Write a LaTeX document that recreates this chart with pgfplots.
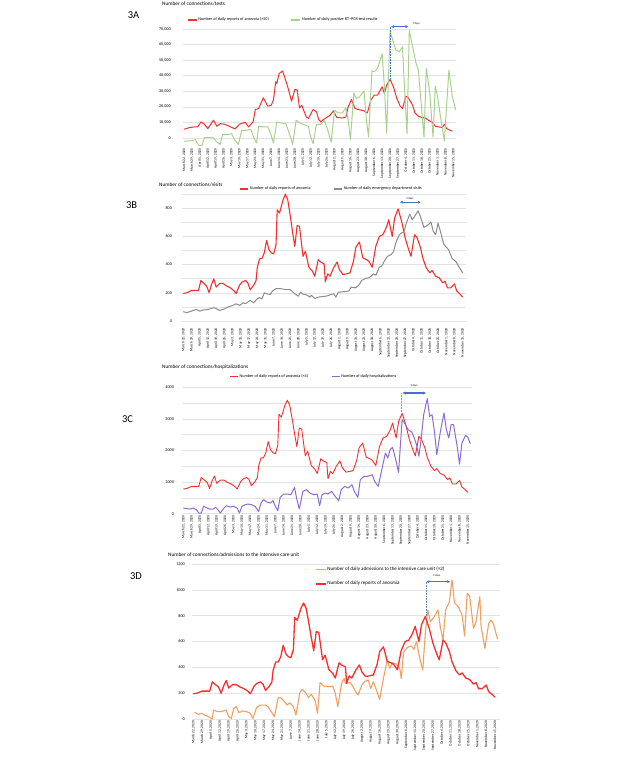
\documentclass[border=0pt]{standalone}
\usepackage{fontspec}
\setmainfont{Carlito}
\usepackage{pgfplots}
\pgfplotsset{compat=1.18}
\usetikzlibrary{arrows.meta}
\definecolor{cRed}{HTML}{F52F2F}
\definecolor{cGreen}{HTML}{A9D18E}
\definecolor{cGray}{HTML}{8C8C8C}
\definecolor{cPurple}{HTML}{8E6BD1}
\definecolor{cOrange}{HTML}{F0A060}
\definecolor{cGrid}{HTML}{E3E3E3}
\definecolor{cBlue}{HTML}{4472C4}
\newcommand\xtf{\fontsize{3.6}{4}\selectfont}
\newcommand\ytf{\fontsize{4.2}{5}\selectfont}
\newcommand\lgf{\fontsize{4.2}{5}\selectfont}
\newcommand\ttf{\fontsize{5.3}{6}\selectfont}
\newcommand\anf{\fontsize{2.8}{3}\selectfont}
\tikzset{arr/.style={cBlue, {Stealth[length=3pt,width=3pt]}-{Stealth[length=3pt,width=3pt]}, line width=1.2pt}}
\pgfplotsset{panel/.style={
 scale only axis, clip=false, scaled ticks=false,
 axis line style={draw=none},
 major tick length=0pt, minor tick length=0pt,
 ymajorgrids, grid style={draw=cGrid, line width=0.5pt},
 minor grid style={draw=cGrid, line width=0.5pt},
 xtick={0,7,...,238},
 xticklabels={{March 22, 2020},{March 29, 2020},{April 5, 2020},{April 12, 2020},{April 19, 2020},{April 26, 2020},{May 3, 2020},{May 10, 2020},{May 17, 2020},{May 24, 2020},{May 31, 2020},{June 7, 2020},{June 14, 2020},{June 21, 2020},{June 28, 2020},{July 5, 2020},{July 12, 2020},{July 19, 2020},{July 26, 2020},{August 2, 2020},{August 9, 2020},{August 16, 2020},{August 23, 2020},{August 30, 2020},{September 6, 2020},{September 13, 2020},{September 20, 2020},{September 27, 2020},{October 4, 2020},{October 11, 2020},{October 18, 2020},{October 25, 2020},{November 1, 2020},{November 8, 2020},{November 15, 2020}},
 xticklabel style={rotate=90, anchor=east, inner sep=0pt, font=\xtf},
 yticklabel style={anchor=east, inner sep=0pt, font=\ytf},
 /pgf/number format/assume math mode=true,
 /pgf/number format/1000 sep={},
 legend cell align=left,
 legend style={draw=none, fill=none, inner sep=0pt, font=\lgf, nodes={inner sep=1pt}},
 every axis plot/.append style={mark=none, line join=round},
}}
\begin{document}
\begin{tikzpicture}
\path[use as bounding box] (0pt,0pt) rectangle (634pt,761pt);
% titles and panel labels
\node[anchor=west, font=\ttf, inner sep=0pt] at (162pt,757pt) {Number of connections/tests};
\node[anchor=west, font=\ttf, inner sep=0pt] at (159pt,576pt) {Number of connections/visits};
\node[anchor=west, font=\ttf, inner sep=0pt] at (162pt,394.3pt) {Number of connections/hospitalizations};
\node[anchor=west, font=\ttf, inner sep=0pt] at (168pt,206pt) {Number of connections/admissions to the intensive care unit};
\node[font=\fontsize{10.5}{12}\selectfont, inner sep=0pt] at (133.6pt,746pt) {3A};
\node[font=\fontsize{10.5}{12}\selectfont, inner sep=0pt] at (131.6pt,556pt) {3B};
\node[font=\fontsize{10.5}{12}\selectfont, inner sep=0pt] at (127.5pt,342pt) {3C};
\node[font=\fontsize{10.5}{12}\selectfont, inner sep=0pt] at (136pt,185pt) {3D};

% ---------------- 3A ----------------
\begin{axis}[panel, at={(182.9pt,613.7pt)}, anchor=south west,
 width=272.8pt, height=121.4pt, xmin=-1, xmax=240, ymin=-6000, ymax=72000,
 ytick={0,10000,...,70000},
 yticklabel style={/pgf/number format/1000 sep={,}},
 yticklabel shift=12pt, xticklabel shift=1pt,
 legend columns=2,
 legend style={at={(axis description cs:0.015,1.049)}, anchor=west,
   /tikz/every even column/.append style={column sep=21pt}},
 legend image code/.code={\draw[#1, line width=1.2pt] (0pt,0pt) -- (9pt,0pt);}]
\addplot[cRed, line width=1pt] coordinates {(0,5600)(5,6700)(9,7100)(12,7100)(15,10300)(18,8800)(21,6000)(26,11400)(29,7500)(32,9200)(36,8800)(40,7500)(45,5800)(49,8800)(54,10100)(57,7100)(61,10300)(63,18300)(66,18900)(70,25800)(74,20400)(77,21000)(79,24300)(81,36100)(82,35000)(84,41400)(87,43000)(89,38900)(92,31800)(95,23600)(98,31300)(100,30700)(102,19300)(104,21000)(108,13500)(110,12500)(114,18300)(117,16700)(119,11800)(121,10300)(123,11800)(126,13100)(129,14600)(132,17400)(135,13100)(140,12900)(143,13500)(145,20000)(148,24700)(151,18900)(154,18300)(159,17400)(162,16100)(165,24300)(168,27500)(171,27500)(175,32900)(177,28600)(179,33900)(182,37600)(185,32900)(188,25300)(191,20400)(193,18900)(196,26800)(198,26000)(202,21000)(204,16100)(207,14000)(210,13100)(213,12900)(216,11400)(219,10300)(222,7500)(225,7100)(228,6700)(230,8800)(232,6000)(237,4300)};
\addlegendentry{Number of daily reports of anosmia (×50)}
\addplot[cGreen, line width=1pt] coordinates {(0,-2100)(5,-1900)(10,-1100)(13,-4700)(16,-4700)(18,200)(23,200)(26,0)(29,-2600)(32,-4100)(34,2100)(38,2100)(42,2800)(45,-1500)(48,-4100)(51,4900)(55,4900)(59,5600)(62,-400)(64,-3200)(66,7500)(70,7100)(74,7100)(77,1700)(79,-3200)(82,10300)(85,9700)(90,9200)(93,2800)(96,-4100)(99,11400)(102,9700)(107,8200)(110,7500)(111,2800)(114,-3700)(117,8800)(121,8800)(124,11400)(127,4900)(130,-2600)(133,17800)(136,16100)(140,16100)(143,19500)(145,11400)(147,-1100)(150,29000)(152,25300)(155,26400)(159,30300)(161,12500)(163,600)(166,43200)(168,42500)(171,44700)(175,54300)(177,32900)(179,3200)(182,68300)(184,64000)(187,56500)(190,55400)(193,58600)(195,28600)(197,2800)(199,68900)(202,58600)(205,47900)(207,43600)(209,26400)(212,600)(214,44700)(217,29600)(220,600)(222,33300)(224,26400)(227,11400)(230,-1900)(234,43600)(237,26800)(240,17800)};
\addlegendentry{Number of daily positive RT--PCR test results}
\draw[cBlue, densely dotted, line width=0.6pt] (axis cs:182,71500) -- (axis cs:182,37600);
\draw[arr] (axis cs:183,71500) -- (axis cs:198,71500);
\node[font=\anf, inner sep=0pt] at (axis cs:205,73200) {7 days};
\end{axis}

% ---------------- 3B ----------------
\begin{axis}[panel, at={(182.1pt,440pt)}, anchor=south west,
 width=284.1pt, height=127.1pt, xmin=-1, xmax=241, ymin=0, ymax=900,
 ytick={0,200,...,800}, minor ytick={100,300,...,900}, yminorgrids,
 yticklabel shift=10pt, xticklabel shift=7pt,
 legend columns=2,
 legend style={at={(axis description cs:0.202,1.0386)}, anchor=west,
   /tikz/every even column/.append style={column sep=22pt}},
 legend image code/.code={\draw[#1, line width=1.2pt] (0pt,0pt) -- (8pt,0pt);}]
\addplot[cRed, line width=1.1pt] coordinates {(0,195)(3,200)(7,216)(13,216)(15,287)(18,263)(20,247)(22,200)(24,258)(26,298)(28,240)(31,266)(34,266)(37,247)(40,235)(43,216)(45,195)(48,254)(50,275)(53,287)(55,270)(57,221)(60,254)(62,287)(63,376)(65,442)(67,442)(69,482)(71,571)(73,505)(75,482)(77,475)(79,540)(80,787)(82,764)(85,858)(87,898)(89,858)(91,752)(93,635)(95,529)(97,677)(99,670)(102,458)(104,494)(107,381)(110,353)(112,317)(115,435)(117,418)(120,404)(121,277)(123,334)(125,317)(128,376)(131,418)(133,364)(136,329)(139,334)(142,341)(145,423)(147,522)(150,559)(153,446)(156,435)(158,423)(161,381)(164,529)(167,599)(170,611)(173,663)(175,717)(178,599)(180,729)(183,794)(186,705)(189,588)(192,505)(194,458)(197,611)(199,592)(202,522)(204,446)(207,376)(210,341)(212,357)(215,317)(218,306)(221,270)(223,282)(225,235)(228,235)(231,263)(233,212)(236,188)(238,169)};
\addlegendentry{Number of daily reports of anosmia}
\addplot[cGray, line width=1pt] coordinates {(0,66)(3,59)(7,70)(11,82)(14,70)(17,78)(21,82)(26,94)(28,87)(31,75)(34,82)(38,99)(43,113)(45,122)(48,110)(51,129)(53,122)(57,146)(60,129)(63,157)(65,165)(67,157)(69,200)(71,193)(74,188)(76,212)(79,230)(82,230)(87,223)(91,223)(95,193)(98,176)(100,204)(102,190)(105,185)(108,169)(109,183)(112,160)(115,169)(119,174)(122,176)(126,188)(128,193)(130,169)(132,204)(136,207)(141,212)(143,240)(147,235)(150,259)(152,287)(155,301)(158,306)(160,317)(162,334)(164,324)(167,381)(169,388)(172,435)(174,458)(177,470)(179,489)(181,552)(184,611)(186,623)(188,635)(190,693)(193,757)(195,717)(197,740)(200,780)(202,740)(205,663)(208,677)(211,700)(213,635)(215,611)(217,693)(219,635)(222,541)(226,505)(229,442)(232,423)(234,395)(238,341)};
\addlegendentry{Number of daily emergency department visits}
\draw[arr] (axis cs:184.6,841) -- (axis cs:202.2,841);
\node[font=\anf, inner sep=0pt] at (axis cs:193,864) {9 days};
\end{axis}

% ---------------- 3C ----------------
\begin{axis}[panel, at={(182.1pt,247.3pt)}, anchor=south west,
 width=289.4pt, height=126.4pt, xmin=-1, xmax=241, ymin=0, ymax=4000,
 ytick={0,1000,...,4000}, minor ytick={500,1500,2500,3500}, yminorgrids,
 yticklabel shift=8pt, xticklabel shift=1.5pt,
 legend columns=2,
 legend style={at={(axis description cs:0.163,1.084)}, anchor=west,
   /tikz/every even column/.append style={column sep=22pt}},
 legend image code/.code={\draw[#1, line width=1.2pt] (0pt,0pt) -- (8pt,0pt);}]
\addplot[cRed, line width=0.9pt] coordinates {(0,780)(3,800)(7,864)(13,864)(15,1148)(18,1052)(20,988)(22,800)(24,1032)(26,1192)(28,960)(31,1064)(34,1064)(37,988)(40,940)(43,864)(45,780)(48,1016)(50,1100)(53,1148)(55,1080)(57,884)(60,1016)(62,1148)(63,1504)(65,1768)(67,1768)(69,1928)(71,2284)(73,2020)(75,1928)(77,1900)(79,2160)(80,3148)(82,3056)(85,3432)(87,3592)(89,3432)(91,3008)(93,2540)(95,2116)(97,2708)(99,2680)(102,1832)(104,1976)(107,1524)(110,1412)(112,1268)(115,1740)(117,1672)(120,1616)(121,1108)(123,1336)(125,1268)(128,1504)(131,1672)(133,1456)(136,1316)(139,1336)(142,1364)(145,1692)(147,2088)(150,2236)(153,1784)(156,1740)(158,1692)(161,1524)(164,2116)(167,2396)(170,2444)(173,2652)(175,2868)(178,2396)(180,2916)(183,3176)(186,2820)(189,2352)(192,2020)(194,1832)(197,2444)(199,2368)(202,2088)(204,1784)(207,1504)(210,1364)(212,1428)(215,1268)(218,1224)(221,1080)(223,1128)(225,940)(228,940)(231,1052)(233,848)(236,752)(238,676)};
\addlegendentry{Number of daily reports of anosmia (×4)}
\addplot[cPurple, line width=1pt] coordinates {(0,179)(3,158)(6,148)(8,179)(11,127)(13,21)(15,21)(17,232)(20,179)(22,148)(25,148)(27,200)(29,127)(31,21)(34,179)(36,253)(39,211)(42,232)(45,179)(47,21)(49,232)(52,285)(54,306)(57,285)(60,232)(63,74)(65,338)(67,443)(70,369)(73,338)(75,411)(77,232)(79,95)(81,517)(84,622)(87,622)(90,601)(93,833)(95,443)(97,148)(100,707)(103,760)(106,654)(109,601)(112,622)(114,253)(116,601)(119,654)(121,622)(124,707)(127,549)(130,411)(132,760)(135,865)(138,812)(141,918)(143,707)(146,517)(148,1076)(151,1182)(154,1182)(158,1234)(160,1023)(163,865)(169,1920)(171,1762)(173,2026)(175,2099)(178,1656)(180,1308)(183,2975)(185,2870)(188,2659)(191,2585)(193,2416)(195,2184)(197,1815)(199,2395)(201,3133)(204,3640)(206,3080)(208,3133)(210,2606)(212,1867)(215,2606)(218,3186)(220,2659)(222,2395)(224,2817)(226,2817)(229,2131)(231,1572)(233,2237)(236,2479)(238,2416)(240,2216)};
\addlegendentry{Number of daily hospitalizations}
\draw[cBlue!70, densely dotted, line width=0.5pt] (axis cs:182.6,3819) -- (axis cs:182.6,3220);
\draw[arr] (axis cs:183.4,3819) -- (axis cs:202.9,3819);
\node[font=\anf, inner sep=0pt] at (axis cs:193.1,4063) {9 days};
\end{axis}

% ---------------- 3D ----------------
\begin{axis}[panel, at={(192pt,42pt)}, anchor=south west,
 width=308.1pt, height=155pt, xmin=-1, xmax=242, ymin=0, ymax=1200,
 ytick={0,200,...,1200},
 yticklabel shift=7pt, xticklabel shift=1.7pt,
 legend columns=1,
 legend style={at={(axis description cs:0.4,0.99)}, anchor=north west, font=\fontsize{5}{6}\selectfont,
   row sep=7.5pt},
 legend image code/.code={\draw[#1, line width=1.4pt] (0pt,0pt) -- (9.5pt,0pt);}]
\addplot[cOrange, line width=1.1pt] coordinates {(1,52)(4,36)(7,44)(9,31)(12,18)(15,0)(16,70)(19,57)(22,57)(26,70)(28,18)(30,5)(32,83)(34,95)(36,49)(39,62)(42,57)(45,44)(47,5)(50,90)(53,108)(57,108)(59,95)(62,49)(64,18)(67,165)(69,165)(72,134)(74,108)(76,126)(79,95)(81,31)(84,204)(86,230)(89,199)(91,165)(93,191)(96,147)(98,44)(100,281)(103,255)(107,250)(110,255)(112,199)(114,95)(117,276)(119,315)(120,276)(124,281)(126,250)(128,212)(130,186)(133,263)(135,289)(138,302)(140,237)(142,289)(144,237)(147,152)(150,315)(153,457)(155,392)(157,436)(160,426)(163,384)(164,315)(166,521)(169,555)(172,565)(174,539)(176,599)(179,457)(181,379)(183,663)(185,844)(187,753)(190,792)(193,844)(195,702)(197,611)(199,844)(202,908)(204,1076)(205,1004)(206,900)(209,869)(212,805)(214,642)(216,973)(218,952)(221,702)(223,753)(226,947)(227,715)(230,547)(233,740)(235,766)(237,728)(240,617)};
\addlegendentry{Number of daily admissions to the intensive care unit (×2)}
\addplot[cRed, line width=1.3pt] coordinates {(0,195)(3,200)(7,216)(13,216)(15,287)(18,263)(20,247)(22,200)(24,258)(26,298)(28,240)(31,266)(34,266)(37,247)(40,235)(43,216)(45,195)(48,254)(50,275)(53,287)(55,270)(57,221)(60,254)(62,287)(63,376)(65,442)(67,442)(69,482)(71,571)(73,505)(75,482)(77,475)(79,540)(80,787)(82,764)(85,858)(87,898)(89,858)(91,752)(93,635)(95,529)(97,677)(99,670)(102,458)(104,494)(107,381)(110,353)(112,317)(115,435)(117,418)(120,404)(121,277)(123,334)(125,317)(128,376)(131,418)(133,364)(136,329)(139,334)(142,341)(145,423)(147,522)(150,559)(153,446)(156,435)(158,423)(161,381)(164,529)(167,599)(170,611)(173,663)(175,717)(178,599)(180,729)(183,794)(186,705)(189,588)(192,505)(194,458)(197,611)(199,592)(202,522)(204,446)(207,376)(210,341)(212,357)(215,317)(218,306)(221,270)(223,282)(225,235)(228,235)(231,263)(233,212)(236,188)(238,169)};
\addlegendentry{Number of daily reports of anosmia}
\draw[cBlue!80, densely dotted, line width=0.6pt] (axis cs:183.5,1063) -- (axis cs:183.5,800);
\draw[arr] (axis cs:184,1063) -- (axis cs:202.5,1063);
\node[font=\anf, inner sep=0pt] at (axis cs:192,1107) {9 days};
\end{axis}
\end{tikzpicture}
\end{document}
